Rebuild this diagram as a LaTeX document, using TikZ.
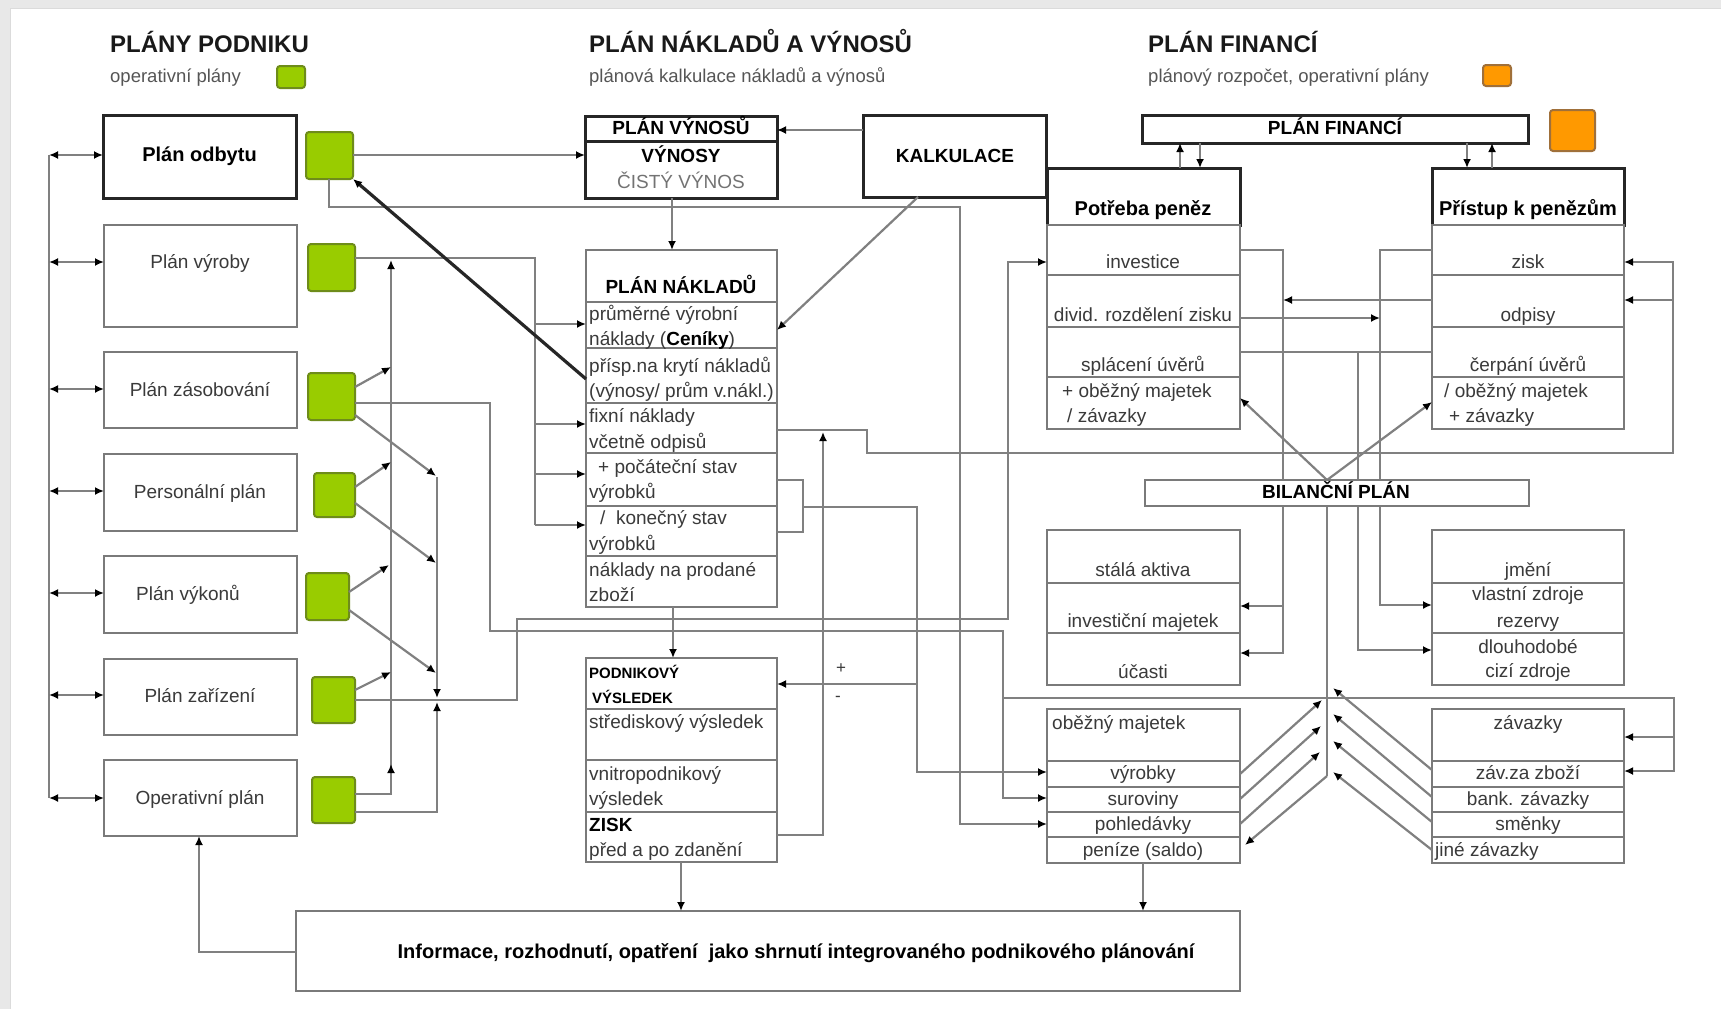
\documentclass[tikz,border=0pt]{standalone}
\usepackage{fontspec}
\setmainfont{Liberation Sans}
\usetikzlibrary{arrows.meta}
\definecolor{lg}{HTML}{808080}
\definecolor{bg}{HTML}{7A7A7A}
\definecolor{tg}{HTML}{3A3A3A}
\definecolor{sg}{HTML}{555555}
\definecolor{grn}{HTML}{99CC00}
\definecolor{grnb}{HTML}{6E8C1A}
\definecolor{org}{HTML}{FF9900}
\definecolor{orgb}{HTML}{A0703A}
\newcommand\fs[1]{\fontsize{#1}{#1}\selectfont}
\newcommand\bx[6]{\node[#6,minimum width={#4-#2},minimum height={#5-#3}] (#1) at ({(#2+#4)/2},{(#3+#5)/2}) {};}
\newcommand\tx[5]{\node[#2] (#1) at (#3,#4) {#5};}
\tikzset{
  gbox/.style={draw=bg,line width=2.4pt,fill=white,inner sep=0pt,outer sep=0pt,rectangle},
  kbox/.style={draw=black!85,line width=3pt,fill=white,inner sep=0pt,outer sep=0pt,rectangle},
  gsq/.style={draw=grnb,line width=2pt,fill=grn,rounded corners=3pt,inner sep=0pt,outer sep=0pt,rectangle},
  osq/.style={draw=orgb,line width=2pt,fill=org,rounded corners=3pt,inner sep=0pt,outer sep=0pt,rectangle},
  gl/.style={draw=lg,line width=2.2pt},
  ar/.style={-{Latex[length=9pt,width=8pt,color=black]}},
  dar/.style={{Latex[length=9pt,width=8pt,color=black]}-{Latex[length=9pt,width=8pt,color=black]}},
  tb/.style={inner sep=0pt,text height=14pt,text depth=4pt},
  reg/.style={tb,font=\fs{19},text=tg},
  regl/.style={reg,anchor=west},
  bld/.style={tb,font=\bfseries\fs{19},text=black},
  bldl/.style={bld,anchor=west},
  ttl/.style={tb,font=\bfseries\fs{24},text=black!90,anchor=west},
  sub/.style={tb,font=\fs{18.5},text=sg,anchor=west},
}
\begin{document}
\begin{tikzpicture}[x=1pt,y=-1pt]
\useasboundingbox (0,0) rectangle (1721,1009);
\fill[white] (0,0) rectangle (1721,1009);
\fill[black!9] (0,0) rectangle (10,1009);
\fill[black!9] (0,0) rectangle (1721,8);
\draw[black!14,line width=1.5pt] (10.5,8) -- (10.5,1009);
\draw[black!14,line width=1.5pt] (10,8.5) -- (1721,8.5);

% ---------- boxes ----------
\bx{odb}{103}{115}{296}{198}{kbox}
\bx{vyr}{104}{225}{297}{327}{gbox}
\bx{zas}{104}{352}{297}{428}{gbox}
\bx{per}{104}{454}{297}{531}{gbox}
\bx{vyk}{104}{556}{297}{633}{gbox}
\bx{zar}{104}{659}{297}{735}{gbox}
\bx{ope}{104}{760}{297}{836}{gbox}

\bx{g1}{306}{132}{353}{179}{gsq}
\bx{g2}{308}{244}{355}{291}{gsq}
\bx{g3}{308}{373}{355}{420}{gsq}
\bx{g4}{314}{473}{355}{517}{gsq}
\bx{g5}{306}{573}{349}{620}{gsq}
\bx{g6}{312}{677}{355}{723}{gsq}
\bx{g7}{312}{777}{355}{823}{gsq}
\bx{leg1}{277}{66}{305}{88}{gsq}
\bx{leg2}{1483}{65}{1511}{86}{osq}
\bx{osq1}{1550}{110}{1595}{151}{osq}

\bx{pvh}{585}{116}{777}{141}{kbox}
\bx{pvb}{585}{141}{777}{198}{kbox}
\bx{kalk}{863}{115}{1046}{197}{kbox}

\bx{pnh}{586}{250}{777}{302}{gbox}
\bx{pn1}{586}{302}{777}{348}{gbox}
\bx{pn2}{586}{348}{777}{403}{gbox}
\bx{pn3}{586}{403}{777}{453}{gbox}
\bx{pn4}{586}{453}{777}{506}{gbox}
\bx{pn5}{586}{506}{777}{556}{gbox}
\bx{pn6}{586}{556}{777}{607}{gbox}

\bx{pvs}{586}{658}{777}{709}{gbox}
\bx{pv1}{586}{709}{777}{760}{gbox}
\bx{pv2}{586}{760}{777}{812}{gbox}
\bx{pv3}{586}{812}{777}{862}{gbox}

\bx{pf}{1142}{115}{1528}{143}{kbox}
\bx{pp}{1047}{168}{1240}{225}{kbox}
\bx{pp1}{1047}{225}{1240}{275}{gbox}
\bx{pp2}{1047}{275}{1240}{327}{gbox}
\bx{pp3}{1047}{327}{1240}{377}{gbox}
\bx{pp4}{1047}{377}{1240}{429}{gbox}
\bx{pk}{1432}{168}{1624}{225}{kbox}
\bx{pk1}{1432}{225}{1624}{275}{gbox}
\bx{pk2}{1432}{275}{1624}{327}{gbox}
\bx{pk3}{1432}{327}{1624}{377}{gbox}
\bx{pk4}{1432}{377}{1624}{429}{gbox}

\bx{sa1}{1047}{530}{1240}{583}{gbox}
\bx{sa2}{1047}{583}{1240}{633}{gbox}
\bx{sa3}{1047}{633}{1240}{685}{gbox}
\bx{jm1}{1432}{530}{1624}{583}{gbox}
\bx{jm2}{1432}{583}{1624}{633}{gbox}
\bx{jm3}{1432}{633}{1624}{685}{gbox}

\bx{om0}{1047}{709}{1240}{761}{gbox}
\bx{om1}{1047}{761}{1240}{787}{gbox}
\bx{om2}{1047}{787}{1240}{812}{gbox}
\bx{om3}{1047}{812}{1240}{837}{gbox}
\bx{om4}{1047}{837}{1240}{863}{gbox}
\bx{zv0}{1432}{709}{1624}{761}{gbox}
\bx{zv1}{1432}{761}{1624}{787}{gbox}
\bx{zv2}{1432}{787}{1624}{812}{gbox}
\bx{zv3}{1432}{812}{1624}{837}{gbox}
\bx{zv4}{1432}{837}{1624}{863}{gbox}

\bx{inf}{296}{911}{1240}{991}{gbox}

% ---------- connectors ----------
\draw[gl] (49,155) -- (49,798);
\foreach \n/\y in {odb/155,vyr/262,zas/389,per/491,vyk/593,zar/695,ope/798}
  \draw[gl,dar] (49,\y) -- (\n.west|-0,\y);

\draw[gl,ar] (g1.east|-0,155) -- (pvb.west|-0,155);
\draw[gl,ar] (kalk.west|-0,130) -- (pvh.east|-0,130);
\draw[gl,ar] (pvb.south-|672,0) -- (pnh.north-|672,0);
\draw[gl,ar] (kalk.south-|918,0) -- (pn1.east|-0,330);
\draw[gl,ar] (g1.south-|329,0) |- (960,207) |- (om3.west|-0,824);

\draw[gl] (g2.east|-0,258) -| (535,525);
\foreach \n/\y in {pn1/324,pn3/424,pn4/474,pn5/525}
  \draw[gl,ar] (535,\y) -- (\n.west|-0,\y);

\draw[gl,ar] (g7.east|-0,794) -| (391,260);
\draw[gl,ar] (391,790) -- (391,764);
\draw[gl,ar] (g3.east|-0,387) -- (391,367);
\draw[gl,ar] (g4.east|-0,487) -- (391,462);
\draw[gl,ar] (g5.east|-0,592) -- (389,565);
\draw[gl,ar] (g6.east|-0,690) -- (391,672);

\draw[gl,ar] (g3.east|-0,415) -- (436,476);
\draw[gl,ar] (g4.east|-0,503) -- (436,563);
\draw[gl,ar] (g5.east|-0,610) -- (436,673);
\draw[gl,ar] (437,477) -- (437,698);
\draw[gl,ar] (g7.east|-0,812) -| (437,702);

\draw[gl,ar] (g3.east|-0,403) -| (490,631) -| (1003,798) -- (om2.west|-0,798);
\draw[gl,ar] (g6.east|-0,700) -| (517,619) -| (1008,262) -- (pp1.west|-0,262);

\draw[gl,ar] (pn3.east|-0,430) -| (867,453) -| (1673,262) -- (pk1.east|-0,262);
\draw[gl,ar] (1673,300) -- (pk2.east|-0,300);
\draw[gl,ar] (pv3.east|-0,835) -| (823,432);

\draw[gl] (pn4.east|-0,480) -| (803,532) -- (pn5.east|-0,532);
\draw[gl,ar] (803,507) -| (917,772) -- (om1.west|-0,772);
\draw[gl,ar] (917,684) -- (pvs.east|-0,684);
\node[tb,font=\fs{17},text=tg] (plus) at (841,668) {+};
\node[tb,font=\fs{17},text=tg] (minus) at (838,696) {-};

\draw[gl,ar] (pn6.south-|673,0) -- (pvs.north-|673,0);
\draw[gl,ar] (pv3.south-|681,0) -- (inf.north-|681,0);
\draw[gl,ar] (om4.south-|1143,0) -- (inf.north-|1143,0);
\draw[gl,ar] (inf.west|-0,952) -| (ope.south-|199,0);

\draw[black!85,line width=3.2pt,ar] (pn2.west|-0,379) -- (g1.south east);

\draw[gl,ar] (pp.north-|1180,0) -- (pf.south-|1180,0);
\draw[gl,ar] (pf.south-|1200,0) -- (pp.north-|1200,0);
\draw[gl,ar] (pf.south-|1467,0) -- (pk.north-|1467,0);
\draw[gl,ar] (pk.north-|1492,0) -- (pf.south-|1492,0);

\draw[gl,ar] (pp1.east|-0,250) -| (1283,653) -- (sa3.east|-0,653);
\draw[gl,ar] (1283,606) -- (sa2.east|-0,606);
\draw[gl,ar] (pk1.west|-0,250) -| (1380,605) -- (jm2.west|-0,605);
\draw[gl,ar] (pk2.west|-0,300) -- (1283,300);
\draw[gl,ar] (pp2.east|-0,318) -- (1380,318);
\draw[gl] (pp3.east|-0,352) -- (pk3.west|-0,352);
\draw[gl,ar] (1358,352) |- (jm3.west|-0,650);

\draw[gl] (1327,506) -- (1327,776);
\draw[gl,ar] (1327,480) -- (pp4.east|-0,398);
\draw[gl,ar] (1327,480) -- (pk4.west|-0,402);

\draw[gl,ar] (om1.east|-0,774) -- (1322,700);
\draw[gl,ar] (om2.east|-0,799) -- (1321,726);
\draw[gl,ar] (om3.east|-0,824) -- (1320,752);
\draw[gl,ar] (1327,776) -- (1245,845);
\draw[gl,ar] (zv1.west|-0,770) -- (1333,688);
\draw[gl,ar] (zv2.west|-0,797) -- (1333,714);
\draw[gl,ar] (zv3.west|-0,822) -- (1333,741);
\draw[gl,ar] (zv4.west|-0,850) -- (1333,772);

\draw[gl,ar] (1003,698) -| (1674,771) -- (zv1.east|-0,771);
\draw[gl,ar] (1674,737) -- (zv0.east|-0,737);

\bx{bp}{1145}{480}{1529}{506}{gbox}

% ---------- texts ----------
\tx{t1}{ttl}{110}{47}{PLÁNY PODNIKU}
\tx{t2}{ttl}{589}{47}{PLÁN NÁKLADŮ A VÝNOSŮ}
\tx{t3}{ttl}{1148}{47}{PLÁN FINANCÍ}
\tx{s1}{sub}{110}{77}{operativní plány}
\tx{s2}{sub}{589}{77}{plánová kalkulace nákladů a výnosů}
\tx{s3}{sub}{1148}{77}{plánový rozpočet, operativní plány}

\node[tb,font=\bfseries\fs{20}] (todb) at (odb) {Plán odbytu};
\tx{tvyr}{reg}{200}{263}{Plán výroby}
\tx{tzas}{reg}{200}{391}{Plán zásobování}
\tx{tper}{reg}{200}{493}{Personální plán}
\tx{tvyk}{reg}{188}{595}{Plán výkonů}
\tx{tzar}{reg}{200}{697}{Plán zařízení}
\tx{tope}{reg}{200}{799}{Operativní plán}

\tx{tpvh}{bld}{681}{129}{PLÁN VÝNOSŮ}
\tx{tpvb}{bld}{681}{157}{VÝNOSY}
\node[tb,font=\fs{19},text=black!55] (tcv) at (681,183) {ČISTÝ VÝNOS};
\tx{tkalk}{bld}{955}{157}{KALKULACE}

\tx{tpnh}{bld}{681}{288}{PLÁN NÁKLADŮ}
\tx{tn1a}{regl}{589}{315}{průměrné výrobní}
\tx{tn1b}{regl}{589}{340}{náklady (\textcolor{black}{\bfseries Ceníky})}
\tx{tn2a}{regl}{589}{367}{přísp.na krytí nákladů}
\tx{tn2b}{regl}{589}{392}{(výnosy/ prům v.nákl.)}
\tx{tn3a}{regl}{589}{417}{fixní náklady}
\tx{tn3b}{regl}{589}{443}{včetně odpisů}
\tx{tn4a}{regl}{598}{468}{+ počáteční stav}
\tx{tn4b}{regl}{589}{493}{výrobků}
\tx{tn5a}{regl}{600}{519}{/\ \ konečný stav}
\tx{tn5b}{regl}{589}{545}{výrobků}
\tx{tn6a}{regl}{589}{571}{náklady na prodané}
\tx{tn6b}{regl}{589}{596}{zboží}

\node[tb,font=\bfseries\fs{15},anchor=west] (tvsa) at (589,673) {PODNIKOVÝ};
\node[tb,font=\bfseries\fs{15},anchor=west] (tvsb) at (592,698) {VÝSLEDEK};
\tx{tv1}{regl}{589}{723}{střediskový výsledek}
\tx{tv2a}{regl}{589}{775}{vnitropodnikový}
\tx{tv2b}{regl}{589}{800}{výsledek}
\tx{tv3a}{bldl}{589}{826}{ZISK}
\tx{tv3b}{regl}{589}{851}{před a po zdanění}

\node[tb,font=\bfseries\fs{19}] (tpf) at (1335,129) {PLÁN FINANCÍ};
\node[tb,font=\bfseries\fs{20}] (tpp) at (1143,210) {Potřeba peněz};
\tx{tpp1}{reg}{1143}{263}{investice}
\tx{tpp2}{reg}{1143}{316}{divid. rozdělení zisku}
\tx{tpp3}{reg}{1143}{366}{splácení úvěrů}
\tx{tpp4a}{regl}{1062}{392}{+ oběžný majetek}
\tx{tpp4b}{regl}{1067}{417}{/ závazky}
\node[tb,font=\bfseries\fs{20}] (tpk) at (1528,210) {Přístup k penězům};
\tx{tpk1}{reg}{1528}{263}{zisk}
\tx{tpk2}{reg}{1528}{316}{odpisy}
\tx{tpk3}{reg}{1528}{366}{čerpání úvěrů}
\tx{tpk4a}{regl}{1444}{392}{/ oběžný majetek}
\tx{tpk4b}{regl}{1449}{417}{+ závazky}

\tx{tbp}{bld}{1336}{493}{BILANČNÍ PLÁN}
\tx{tsa1}{reg}{1143}{571}{stálá aktiva}
\tx{tsa2}{reg}{1143}{622}{investiční majetek}
\tx{tsa3}{reg}{1143}{673}{účasti}
\tx{tjm1}{reg}{1528}{571}{jmění}
\tx{tjm2a}{reg}{1528}{595}{vlastní zdroje}
\tx{tjm2b}{reg}{1528}{622}{rezervy}
\tx{tjm3a}{reg}{1528}{648}{dlouhodobé}
\tx{tjm3b}{reg}{1528}{672}{cizí zdroje}

\tx{tom0}{regl}{1052}{724}{oběžný majetek}
\tx{tom1}{reg}{1143}{774}{výrobky}
\tx{tom2}{reg}{1143}{800}{suroviny}
\tx{tom3}{reg}{1143}{825}{pohledávky}
\tx{tom4}{reg}{1143}{851}{peníze (saldo)}
\tx{tzv0}{reg}{1528}{724}{závazky}
\tx{tzv1}{reg}{1528}{774}{záv.za zboží}
\tx{tzv2}{reg}{1528}{800}{bank. závazky}
\tx{tzv3}{reg}{1528}{825}{směnky}
\tx{tzv4}{regl}{1435}{851}{jiné závazky}

\node[tb,font=\bfseries\fs{20}] (tinf) at (796,953) {Informace, rozhodnutí, opatření\ \ jako shrnutí integrovaného podnikového plánování};
\end{tikzpicture}
\end{document}
